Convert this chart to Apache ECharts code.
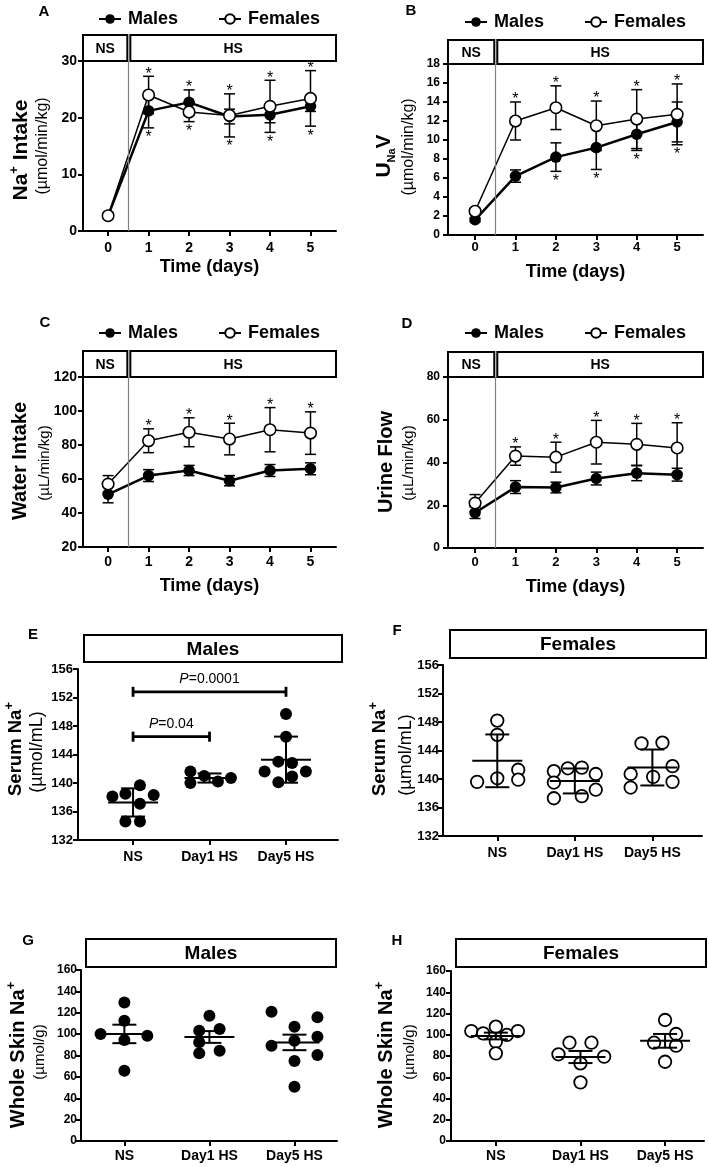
<!DOCTYPE html>
<html><head><meta charset="utf-8">
<script src="https://cdn.jsdelivr.net/npm/echarts@6/dist/echarts.min.js"></script>
<style>html,body{margin:0;padding:0;background:#fff}#c{width:709px;height:1167px}</style>
</head><body><div id="c"></div>
<script>
// ---------------- DATA ----------------
const days = [0, 1, 2, 3, 4, 5];
const dayLabels = ['0', '1', '2', '3', '4', '5'];
const groupLabels = ['NS', 'Day1 HS', 'Day5 HS'];

// A: Na+ intake (µmol/min/kg)
const naIntakeMales = [2.7, 21.2, 22.7, 20.2, 20.5, 22.0];
const naIntakeMalesErr = [0.3, 3.0, 2.2, 1.3, 1.4, 0.9];
const naIntakeFemales = [2.7, 24.0, 21.0, 20.4, 22.0, 23.4];
const naIntakeFemalesErr = [0.5, 3.3, 1.7, 3.8, 4.6, 4.9];
const naIntakeMalesSig = [0, 1, 1, 1, 1, 1];
const naIntakeFemalesSig = [0, 1, 1, 1, 1, 1];

// B: UNaV (µmol/min/kg)
const unavMales = [1.6, 6.2, 8.2, 9.2, 10.6, 11.9];
const unavMalesErr = [0.2, 0.65, 1.5, 2.3, 1.7, 2.1];
const unavFemales = [2.5, 12.0, 13.4, 11.5, 12.2, 12.7];
const unavFemalesErr = [0.3, 2.0, 2.3, 2.6, 3.1, 3.2];
const unavMalesSig = [0, 0, 1, 1, 1, 1];
const unavFemalesSig = [0, 1, 1, 1, 1, 1];

// C: Water intake (µL/min/kg)
const waterMales = [51, 62, 65, 59, 65, 66];
const waterMalesErr = [5, 3.5, 3, 3, 3.5, 3.5];
const waterFemales = [57, 82.5, 87.5, 83.5, 89, 87];
const waterFemalesErr = [5, 7, 8.5, 9.3, 13, 12.5];
const waterMalesSig = [0, 0, 0, 0, 0, 0];
const waterFemalesSig = [0, 1, 1, 1, 1, 1];

// D: Urine flow (µL/min/kg)
const urineMales = [16.5, 28.5, 28.3, 32.5, 35, 34.3];
const urineMalesErr = [2.7, 3, 2.5, 3, 3.5, 3];
const urineFemales = [21, 43, 42.5, 49.5, 48.5, 46.8];
const urineFemalesErr = [4, 4.3, 7, 10.2, 9.8, 11.8];
const urineMalesSig = [0, 0, 0, 0, 0, 0];
const urineFemalesSig = [0, 1, 1, 1, 1, 1];

// E: Serum Na+ males (µmol/mL), per group [NS, Day1 HS, Day5 HS]
const serumMales = [
  [138.1, 138.5, 139.7, 138.3, 137.1, 134.6, 134.6],
  [141.6, 140.0, 141.0, 140.2, 140.7],
  [149.7, 146.5, 141.6, 143.0, 142.8, 141.6, 140.1, 140.9]
];
const serumMalesJitter = [
  [-0.27, -0.10, 0.09, 0.27, 0.09, -0.10, 0.09],
  [-0.25, -0.25, -0.07, 0.11, 0.28],
  [0, 0, -0.28, -0.10, 0.08, 0.26, -0.10, 0.08]
];
const serumMalesPairs = [[0, 1, 146.5, '0.04'], [0, 2, 152.8, '0.0001']];

// F: Serum Na+ females
const serumFemales = [
  [148.2, 146.2, 139.6, 140.1, 141.3, 139.9],
  [141.1, 139.5, 137.3, 141.5, 141.6, 140.7, 138.5, 137.6],
  [145.0, 145.1, 140.7, 140.3, 141.8, 138.8, 139.6]
];
const serumFemalesJitter = [
  [0, 0, -0.26, 0, 0.27, 0.27],
  [-0.27, -0.27, -0.27, -0.09, 0.09, 0.27, 0.27, 0.09],
  [-0.14, 0.13, -0.28, 0.01, 0.26, -0.28, 0.26]
];

// G: Whole skin Na+ males (µmol/g)
const skinMales = [
  [129.7, 112.5, 100.1, 94.5, 98.5, 65.8],
  [117.2, 103.2, 104.8, 92.3, 82.0, 84.5],
  [121.0, 89.2, 106.9, 93.8, 74.8, 50.8, 115.7, 97.6, 80.4]
];
const skinMalesJitter = [
  [0, 0, -0.28, 0, 0.27, 0],
  [0, -0.12, 0.12, -0.12, -0.12, 0.12],
  [-0.27, -0.27, 0, 0, 0, 0, 0.27, 0.27, 0.27]
];

// H: Whole skin Na+ females
const skinFemales = [
  [103.5, 101.3, 107.6, 93.5, 82.5, 99.8, 103.5],
  [81.6, 92.5, 92.5, 73.1, 79.4, 55.2],
  [113.9, 92.5, 100.7, 89.7, 74.6]
];
const skinFemalesJitter = [
  [-0.29, -0.15, 0, 0, 0, 0.13, 0.26],
  [-0.26, -0.13, 0.13, 0, 0.28, 0],
  [0, -0.13, 0.13, 0.13, 0]
];

// ---------------- STYLE / LAYOUT ----------------
const FONT = '"Liberation Sans", Arial, Helvetica, sans-serif';
const grids = [
  {left: 83, top: 61, width: 253, height: 170},
  {left: 448, top: 64, width: 255, height: 171},
  {left: 83, top: 377, width: 253, height: 170},
  {left: 448, top: 377, width: 255, height: 171},
  {left: 78, top: 669, width: 260, height: 171},
  {left: 443, top: 665, width: 259, height: 171},
  {left: 81, top: 970, width: 256, height: 171},
  {left: 451, top: 971, width: 253, height: 170}
].map(g => Object.assign({outerBoundsMode: 'none', containLabel: false}, g));

function yAx(gi, min, max, interval, fs, margin) {
  return {gridIndex: gi, type: 'value', min, max, interval,
    axisLine: {show: true, onZero: false, lineStyle: {color: '#000', width: 2}},
    axisTick: {show: true, length: 5, lineStyle: {color: '#000', width: 2}},
    axisLabel: {color: '#000', fontWeight: 'bold', fontSize: fs, fontFamily: FONT, margin},
    splitLine: {show: false}};
}
function xAx(gi, min, max, ticks, labels, fs, margin, name, nameGap) {
  return {gridIndex: gi, type: 'value', min, max,
    axisLine: {show: true, onZero: false, lineStyle: {color: '#000', width: 2}},
    axisTick: {show: true, length: 5, customValues: ticks, lineStyle: {color: '#000', width: 2}},
    axisLabel: {customValues: ticks, formatter: v => labels[Math.round(v)], color: '#000',
      fontWeight: 'bold', fontSize: fs, fontFamily: FONT, margin},
    splitLine: {show: false},
    name: name || '', nameLocation: 'middle', nameGap: nameGap || 0,
    nameTextStyle: {color: '#000', fontWeight: 'bold', fontSize: 18, fontFamily: FONT}};
}

const series = [];

function linePanel(gi, ymax, boxH, males, mErr, females, fErr, mSig, fSig) {
  series.push({type: 'line', name: 'Males', xAxisIndex: gi, yAxisIndex: gi,
    data: days.map((d, i) => [d, males[i]]), symbol: 'circle', symbolSize: 11.5,
    itemStyle: {color: '#000', opacity: 1}, lineStyle: {color: '#000', width: 2.5}, z: 3, silent: true,
    emphasis: {disabled: true},
    markLine: {silent: true, symbol: 'none', label: {show: false},
      lineStyle: {color: '#808080', width: 1.2, type: 'solid'}, data: [{xAxis: 0.5}]}});
  series.push({type: 'line', name: 'Females', xAxisIndex: gi, yAxisIndex: gi,
    data: days.map((d, i) => [d, females[i]]), symbol: 'circle', symbolSize: 11.5,
    itemStyle: {color: '#fff', borderColor: '#000', borderWidth: 1.6, opacity: 1},
    lineStyle: {color: '#000', width: 1.5}, z: 4, silent: true, emphasis: {disabled: true}});
  // error bars + asterisks
  series.push({type: 'custom', xAxisIndex: gi, yAxisIndex: gi, z: 2, silent: true, clip: false,
    data: days.map((d, i) => [d, males[i], mErr[i], females[i], fErr[i], mSig[i], fSig[i]]),
    encode: {x: 0, y: 1},
    renderItem(params, api) {
      const x = api.value(0);
      const ch = [];
      const st = {stroke: '#000', lineWidth: 1.5};
      [[1, 2], [3, 4]].forEach(([mi, ei]) => {
        const m = api.value(mi), e = api.value(ei);
        const t = api.coord([x, m + e]), b = api.coord([x, m - e]);
        const cx = t[0];
        ch.push({type: 'line', shape: {x1: cx, y1: t[1], x2: cx, y2: b[1]}, style: st});
        ch.push({type: 'line', shape: {x1: cx - 5.5, y1: t[1], x2: cx + 5.5, y2: t[1]}, style: st});
        ch.push({type: 'line', shape: {x1: cx - 5.5, y1: b[1], x2: cx + 5.5, y2: b[1]}, style: st});
      });
      const mm = api.value(1), me = api.value(2), fm = api.value(3), fe = api.value(4);
      const upSig = mm > fm ? api.value(5) : api.value(6);
      const loSig = mm > fm ? api.value(6) : api.value(5);
      const topP = api.coord([x, Math.max(mm + me, fm + fe)]);
      const botP = api.coord([x, Math.min(mm - me, fm - fe)]);
      const ast = {text: '*', align: 'center', verticalAlign: 'middle', fill: '#000', font: '16px ' + FONT};
      if (upSig) ch.push({type: 'text', style: Object.assign({x: topP[0], y: topP[1] - 2}, ast)});
      if (loSig) ch.push({type: 'text', style: Object.assign({x: botP[0], y: botP[1] + 10}, ast)});
      return {type: 'group', children: ch};
    }});
  // NS / HS boxes
  series.push({type: 'custom', xAxisIndex: gi, yAxisIndex: gi, z: 1, silent: true, clip: false,
    data: [[0.5, ymax]], encode: {x: 0, y: 1},
    renderItem(params, api) {
      const cs = params.coordSys;
      const div = api.coord([api.value(0), api.value(1)])[0];
      const bottom = cs.y, top = cs.y - boxH;
      const bs = {fill: '#fff', stroke: '#000', lineWidth: 2};
      const ts = {fill: '#000', font: 'bold 14px ' + FONT, align: 'center', verticalAlign: 'middle'};
      const r = cs.x + cs.width;
      return {type: 'group', children: [
        {type: 'rect', shape: {x: cs.x, y: top, width: div - 1 - cs.x, height: boxH}, style: bs},
        {type: 'text', style: Object.assign({text: 'NS', x: (cs.x + div - 1) / 2, y: (top + bottom) / 2 + 1}, ts)},
        {type: 'rect', shape: {x: div + 2, y: top, width: r - div - 2, height: boxH}, style: bs},
        {type: 'text', style: Object.assign({text: 'HS', x: (div + 2 + r) / 2, y: (top + bottom) / 2 + 1}, ts)}
      ]};
    }});
}

function scatterPanel(gi, groups, jit, filled, useSEM, label, box) {
  const pts = [];
  groups.forEach((g, ci) => g.forEach((v, k) => pts.push([ci + jit[ci][k], v])));
  const stats = groups.map((g, ci) => {
    const n = g.length, mean = g.reduce((a, b) => a + b, 0) / n;
    const sd = Math.sqrt(g.reduce((a, b) => a + (b - mean) * (b - mean), 0) / (n - 1));
    return [ci, mean, useSEM ? sd / Math.sqrt(n) : sd];
  });
  series.push({type: 'scatter', name: 'pts' + gi, xAxisIndex: gi, yAxisIndex: gi, data: pts,
    symbol: 'circle', symbolSize: filled ? 12 : 12.5, silent: true, z: 3, emphasis: {disabled: true},
    itemStyle: filled ? {color: '#000', opacity: 1} : {color: '#fff', borderColor: '#000', borderWidth: 1.8, opacity: 1}});
  series.push({type: 'custom', xAxisIndex: gi, yAxisIndex: gi, z: 4, silent: true, clip: false,
    data: stats, encode: {x: 0, y: 1},
    renderItem(params, api) {
      const x = api.value(0), m = api.value(1), e = api.value(2);
      const c = api.coord([x, m]), t = api.coord([x, m + e]), b = api.coord([x, m - e]);
      const st = {stroke: '#000', lineWidth: 2};
      return {type: 'group', children: [
        {type: 'line', shape: {x1: c[0] - 25, y1: c[1], x2: c[0] + 25, y2: c[1]}, style: st},
        {type: 'line', shape: {x1: c[0], y1: t[1], x2: c[0], y2: b[1]}, style: st},
        {type: 'line', shape: {x1: c[0] - 12, y1: t[1], x2: c[0] + 12, y2: t[1]}, style: st},
        {type: 'line', shape: {x1: c[0] - 12, y1: b[1], x2: c[0] + 12, y2: b[1]}, style: st}
      ]};
    }});
  series.push({type: 'custom', xAxisIndex: gi, yAxisIndex: gi, z: 5, silent: true, clip: false,
    data: [[0, groups[0][0]]], encode: {x: 0, y: 1},
    renderItem(params, api) {
      const cs = params.coordSys;
      const x0 = cs.x + box.dl, x1 = cs.x + cs.width + box.dr;
      const y1 = cs.y - box.gap, y0 = y1 - box.h;
      return {type: 'group', children: [
        {type: 'rect', shape: {x: x0, y: y0, width: x1 - x0, height: box.h},
          style: {fill: '#fff', stroke: '#000', lineWidth: 2}},
        {type: 'text', style: {text: label, x: (x0 + x1) / 2, y: (y0 + y1) / 2 + 1, align: 'center',
          verticalAlign: 'middle', fill: '#000', font: 'bold 19px ' + FONT}}
      ]};
    }});
}

linePanel(0, 30, 26, naIntakeMales, naIntakeMalesErr, naIntakeFemales, naIntakeFemalesErr, naIntakeMalesSig, naIntakeFemalesSig);
linePanel(1, 18, 24, unavMales, unavMalesErr, unavFemales, unavFemalesErr, unavMalesSig, unavFemalesSig);
linePanel(2, 120, 26, waterMales, waterMalesErr, waterFemales, waterFemalesErr, waterMalesSig, waterFemalesSig);
linePanel(3, 80, 25, urineMales, urineMalesErr, urineFemales, urineFemalesErr, urineMalesSig, urineFemalesSig);
scatterPanel(4, serumMales, serumMalesJitter, true, false, 'Males', {dl: 6, dr: 4, gap: 7, h: 27});
scatterPanel(5, serumFemales, serumFemalesJitter, false, false, 'Females', {dl: 7, dr: 4, gap: 7, h: 28});
scatterPanel(6, skinMales, skinMalesJitter, true, true, 'Males', {dl: 5, dr: -1, gap: 3, h: 28});
scatterPanel(7, skinFemales, skinFemalesJitter, false, true, 'Females', {dl: 5, dr: 2, gap: 4, h: 28});

// significance brackets (panel E)
series.push({type: 'custom', xAxisIndex: 4, yAxisIndex: 4, z: 6, silent: true, clip: false,
  data: serumMalesPairs, encode: {x: 0, y: 2},
  renderItem(params, api) {
    const a = api.coord([api.value(0), api.value(2)]), b = api.coord([api.value(1), api.value(2)]);
    const p = serumMalesPairs[params.dataIndex][3];
    const st = {stroke: '#000', lineWidth: 2.8};
    return {type: 'group', children: [
      {type: 'line', shape: {x1: a[0], y1: a[1], x2: b[0], y2: b[1]}, style: st},
      {type: 'line', shape: {x1: a[0], y1: a[1] - 5, x2: a[0], y2: a[1] + 5}, style: st},
      {type: 'line', shape: {x1: b[0], y1: b[1] - 5, x2: b[0], y2: b[1] + 5}, style: st},
      {type: 'text', style: {text: '{i|P}{n|=' + p + '}', x: (a[0] + b[0]) / 2, y: a[1] - 13,
        align: 'center', verticalAlign: 'middle',
        rich: {i: {fontStyle: 'italic', fontSize: 14, fontFamily: FONT, fill: '#000'},
               n: {fontSize: 14, fontFamily: FONT, fill: '#000'}}}}
    ]};
  }});

const xAxes = [
  xAx(0, -0.62, 5.63, days, dayLabels, 14, 10, 'Time (days)', 27),
  xAx(1, -0.67, 5.64, days, dayLabels, 13, 6, 'Time (days)', 28),
  xAx(2, -0.62, 5.63, days, dayLabels, 14, 8, 'Time (days)', 30),
  xAx(3, -0.67, 5.64, days, dayLabels, 13, 8, 'Time (days)', 30),
  xAx(4, -0.72, 2.68, [0, 1, 2], groupLabels, 14, 10),
  xAx(5, -0.70, 2.64, [0, 1, 2], groupLabels, 14, 10),
  xAx(6, -0.51, 2.50, [0, 1, 2], groupLabels, 14, 8),
  xAx(7, -0.53, 2.46, [0, 1, 2], groupLabels, 14, 8)
];
const yAxes = [
  yAx(0, 0, 30, 10, 14, 6),
  yAx(1, 0, 18, 2, 12, 8),
  yAx(2, 20, 120, 20, 14, 6),
  yAx(3, 0, 80, 20, 12, 8),
  yAx(4, 132, 156, 4, 13, 5),
  yAx(5, 132, 156, 4, 13, 4),
  yAx(6, 0, 160, 20, 12, 4),
  yAx(7, 0, 160, 20, 12, 5)
];

function legendAt(left, top) {
  return {left, top, orient: 'horizontal', data: ['Males', 'Females'], selectedMode: false,
    itemWidth: 22, itemHeight: 12, itemGap: 40,
    textStyle: {color: '#000', fontWeight: 'bold', fontSize: 18, fontFamily: FONT, padding: [0, 0, 0, 2]}};
}

function vtext(x, y, text, font) {
  return {type: 'text', x, y, rotation: Math.PI / 2, silent: true,
    style: {text, font, fill: '#000', align: 'center', verticalAlign: 'middle'}};
}
function letter(x, y, t) {
  return {type: 'text', x, y, silent: true,
    style: {text: t, font: 'bold 15px ' + FONT, fill: '#000', align: 'center', verticalAlign: 'middle'}};
}
function mkRich(fs) {
  return {
    m: {fontSize: fs, fontWeight: 'bold', fontFamily: FONT, lineHeight: 26, fill: '#000'},
    sup: {fontSize: 13, fontWeight: 'bold', fontFamily: FONT, lineHeight: 13, verticalAlign: 'top', fill: '#000'},
    sub: {fontSize: 11, fontWeight: 'bold', fontFamily: FONT, lineHeight: 11, verticalAlign: 'bottom', fill: '#000'}
  };
}
function vrich(x, y, text, fs) {
  return {type: 'text', x, y, rotation: Math.PI / 2, silent: true,
    style: {text, rich: mkRich(fs || 20), align: 'center', verticalAlign: 'middle'}};
}
const subFont = s => s + 'px ' + FONT;

const graphic = [
  letter(44, 12, 'A'), letter(411, 11, 'B'), letter(45, 323, 'C'), letter(407, 324, 'D'),
  letter(33, 635, 'E'), letter(397, 631, 'F'), letter(28, 941, 'G'), letter(397, 941, 'H'),
  vrich(21, 150, '{m|Na}{sup|+}{m| Intake}', 21),
  vtext(43, 146, '(µmol/min/kg)', subFont(16)),
  vrich(384, 156, '{m|U}{sub|Na}{m|V}', 21),
  vtext(409, 147, '(µmol/min/kg)', subFont(16)),
  vrich(20, 461, '{m|Water Intake}', 20),
  vtext(45, 463, '(µL/min/kg)', subFont(15)),
  vrich(386, 462, '{m|Urine Flow}', 20),
  vtext(409, 463, '(µL/min/kg)', subFont(15)),
  vrich(16, 749, '{m|Serum Na}{sup|+}', 18.5),
  vtext(37, 752, '(µmol/mL)', subFont(18)),
  vrich(380, 749, '{m|Serum Na}{sup|+}', 18.5),
  vtext(406, 755, '(µmol/mL)', subFont(18)),
  vrich(18, 1055, '{m|Whole Skin Na}{sup|+}', 20),
  vtext(40, 1052, '(µmol/g)', subFont(15)),
  vrich(386, 1055, '{m|Whole Skin Na}{sup|+}', 20),
  vtext(410, 1052, '(µmol/g)', subFont(15))
];

const chart = echarts.init(document.getElementById('c'), null, {renderer: 'canvas'});
chart.setOption({
  animation: false,
  backgroundColor: '#fff',
  grid: grids,
  xAxis: xAxes,
  yAxis: yAxes,
  legend: [legendAt(93, 5), legendAt(459, 8), legendAt(93, 319), legendAt(459, 319)],
  series,
  graphic
});
</script>
</body></html>
